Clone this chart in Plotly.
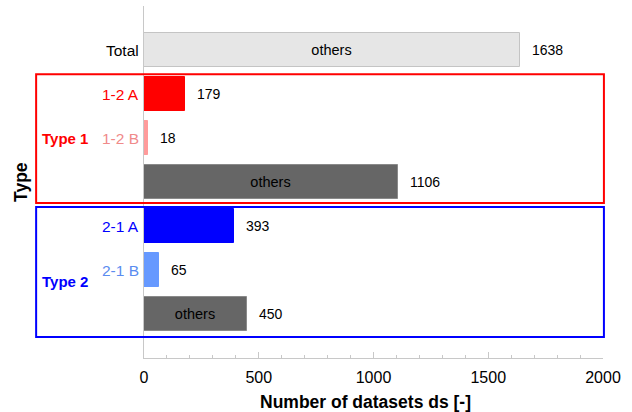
import plotly.graph_objects as go

categories = ["Total", "1-2 A", "1-2 B", "others", "2-1 A", "2-1 B", "others"]
tick_labels = ["Total", "1-2 A", "1-2 B", "", "2-1 A", "2-1 B", ""]
values = [1638, 179, 18, 1106, 393, 65, 450]
inner_text = ["others", "", "", "others", "", "", "others"]
bar_colors = ["#e6e6e6", "#ff0000", "#ff9b9b", "#666666", "#0000ff", "#6699ff", "#666666"]
line_colors = ["#c4c4c4", "#ff0000", "#ff9b9b", "#8a8a8a", "#0000ff", "#6699ff", "#8a8a8a"]
label_colors = ["#000000", "#ff0000", "#f08a8a", "#000000", "#0000ff", "#5a8cf0", "#000000"]
group_names = ["Type 1", "Type 2"]
group_colors = ["#ff0000", "#0000ff"]

ypos = list(range(len(categories)))
FONT = "Liberation Sans, Arial, sans-serif"

fig = go.Figure()
fig.add_trace(go.Bar(
    y=ypos, x=values, orientation="h", width=0.76,
    marker=dict(color=bar_colors, line=dict(color=line_colors, width=1)),
    text=inner_text, textposition="inside", insidetextanchor="middle",
    textfont=dict(family=FONT, size=14.5, color="#000000"),
    showlegend=False, hoverinfo="x+y",
))

# value labels
for i, v in enumerate(values):
    fig.add_annotation(x=v, xref="x", y=i, yref="y", text=str(v),
                       xanchor="left", xshift=10, showarrow=False,
                       font=dict(family=FONT, size=14, color="#000000"))

# category labels
for i, (lab, col) in enumerate(zip(tick_labels, label_colors)):
    if lab:
        fig.add_annotation(x=0, xref="paper", y=i, yref="y", text=lab,
                           xanchor="right", xshift=-3, showarrow=False,
                           font=dict(family=FONT, size=15.5, color=col))

# group boxes
boxes = [(0.55, 3.48), (3.57, 6.52)]
for (y0, y1), name, col, ylab in zip(boxes, group_names, group_colors, [2.0, 5.25]):
    fig.add_shape(type="rect", xref="paper", yref="y", x0=-0.235, x1=1.002,
                  y0=y0, y1=y1, line=dict(color=col, width=2), fillcolor="rgba(0,0,0,0)")
    fig.add_annotation(x=-0.235, xref="paper", y=ylab, yref="y", text="<b>" + name + "</b>",
                       xanchor="left", xshift=4, showarrow=False,
                       font=dict(family=FONT, size=15, color=col))

# axis titles
fig.add_annotation(x=0.4815, xref="paper", y=0, yref="paper", yshift=-44,
                   text="<b>Number of datasets ds [-]</b>", showarrow=False,
                   xanchor="center", yanchor="middle",
                   font=dict(family=FONT, size=17.5, color="#000000"))
fig.add_annotation(x=-0.268, xref="paper", y=0.5, yref="paper", textangle=-90,
                   text="<b>Type</b>", showarrow=False,
                   xanchor="center", yanchor="middle",
                   font=dict(family=FONT, size=17.5, color="#000000"))

fig.update_layout(
    width=632, height=412,
    margin=dict(l=144, r=29, t=6, b=54, autoexpand=False),
    plot_bgcolor="white", paper_bgcolor="white",
    bargap=0,
    font=dict(family=FONT, size=14, color="#000000"),
)
fig.update_xaxes(
    range=[0, 2000], tickvals=[0, 500, 1000, 1500, 2000],
    ticks="inside", ticklen=6, tickcolor="#c8c8c8",
    minor=dict(ticks="inside", ticklen=3, dtick=100, tickcolor="#c8c8c8"),
    showline=True, linecolor="#c8c8c8", linewidth=1,
    showgrid=False, zeroline=False, automargin=False,
    tickfont=dict(family=FONT, size=16), ticklabelstandoff=5,
)
fig.update_yaxes(
    range=[7, -1], showticklabels=False, ticks="",
    showline=True, linecolor="#c8c8c8", linewidth=1,
    showgrid=False, zeroline=False, automargin=False,
)
fig.write_html("out.html", config={"displayModeBar": False},
               post_script="document.body.style.margin='0';")
